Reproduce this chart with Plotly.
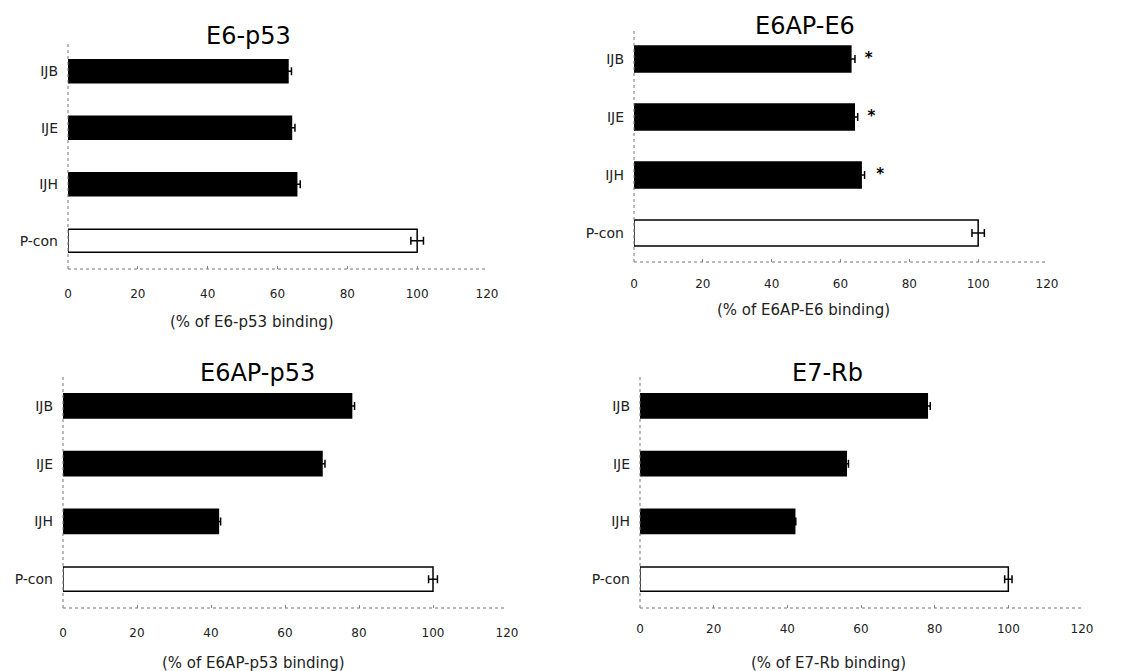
import plotly.graph_objects as go

categories = ["IJB", "IJE", "IJH", "P-con"]

titles = ["E6-p53", "E6AP-E6", "E6AP-p53", "E7-Rb"]
xtitles = ["(% of E6-p53 binding)", "(% of E6AP-E6 binding)",
           "(% of E6AP-p53 binding)", "(% of E7-Rb binding)"]

e6_p53 = [63, 64, 65.5, 100]
e6_p53_err = [1.0, 1.0, 1.0, 1.8]
e6ap_e6 = [63, 64, 66, 100]
e6ap_e6_err = [1.2, 1.0, 1.0, 1.8]
e6ap_p53 = [78, 70, 42, 100]
e6ap_p53_err = [0.8, 0.8, 0.6, 1.2]
e7_rb = [78, 56, 42, 100]
e7_rb_err = [0.8, 0.6, 0.3, 1.0]

star_flags = [[], ["IJB", "IJE", "IJH"], [], []]

xticks = [0, 20, 40, 60, 80, 100, 120]

values = [e6_p53, e6ap_e6, e6ap_p53, e7_rb]
errors = [e6_p53_err, e6ap_e6_err, e6ap_p53_err, e7_rb_err]

W, H = 1142, 671
# panel boxes in pixels: (left, right, top, bottom)
boxes = [(68, 487, 43, 269), (634, 1047, 30, 262), (63, 507, 377, 608), (640, 1082, 377, 608)]
bar_widths = [0.41, 0.45, 0.42, 0.42]
title_pos = [(248, 36), (805, 26), (257, 373), (827, 373)]
xtitle_pos = [(252, 322), (803, 310), (253, 663), (828, 663)]
tick_standoff = [16, 13, 16, 12]

FONT = "DejaVu Sans"

fig = go.Figure()
annotations = []
shapes = []
for i in range(4):
    xa = "x" if i == 0 else f"x{i+1}"
    ya = "y" if i == 0 else f"y{i+1}"
    colors = ["black" if c != "P-con" else "white" for c in categories]
    fig.add_trace(go.Bar(
        x=values[i], y=categories, orientation="h",
        marker=dict(color=colors, line=dict(color="black", width=1.5)),
        width=bar_widths[i],
        error_x=dict(type="data", array=errors[i], color="black", thickness=1.5, width=4),
        xaxis=xa, yaxis=ya, showlegend=False, hoverinfo="skip",
    ))
    if star_flags[i]:
        sx = [values[i][categories.index(c)] + errors[i][categories.index(c)] + (4 if c != "IJH" else 4.5)
              for c in star_flags[i]]
        fig.add_trace(go.Scatter(
            x=sx, y=star_flags[i], mode="text", text=["<b>*</b>"] * len(sx),
            textfont=dict(family=FONT, size=15, color="black"),
            textposition="middle center",
            xaxis=xa, yaxis=ya, showlegend=False, hoverinfo="skip",
        ))
    l, r, t, b = boxes[i]
    sfx = "" if i == 0 else str(i + 1)
    fig.layout["xaxis" + sfx] = dict(
        domain=[l / W, r / W], range=[0, 120], tickvals=xticks,
        ticks="inside", ticklen=3, tickcolor="#888", showgrid=False, zeroline=False,
        showline=False, anchor=ya, ticklabelstandoff=tick_standoff[i], automargin=False,
        tickfont=dict(family=FONT, size=12, color="#222"), fixedrange=True,
    )
    fig.layout["yaxis" + sfx] = dict(
        domain=[1 - b / H, 1 - t / H], range=[3.5, -0.5], type="category",
        categoryorder="array", categoryarray=categories, automargin=False,
        showgrid=False, zeroline=False, showline=False, ticks="", anchor=xa,
        ticklabelstandoff=9,
        tickfont=dict(family=FONT, size=14, color="#222"), fixedrange=True,
    )
    # dotted axis lines
    shapes.append(dict(type="line", xref=f"{xa} domain", yref=f"{ya} domain",
                       x0=0, x1=1, y0=0, y1=0, line=dict(color="#777", width=1, dash="dot")))
    shapes.append(dict(type="line", xref=f"{xa} domain", yref=f"{ya} domain",
                       x0=0, x1=0, y0=0, y1=1, line=dict(color="#777", width=1, dash="dot")))
    tx, ty = title_pos[i]
    annotations.append(dict(text=titles[i], x=tx / W, y=1 - ty / H, xref="paper", yref="paper",
                            showarrow=False, xanchor="center", yanchor="middle",
                            font=dict(family=FONT, size=24, color="black")))
    ax, ay = xtitle_pos[i]
    annotations.append(dict(text=xtitles[i], x=ax / W, y=1 - ay / H, xref="paper", yref="paper",
                            showarrow=False, xanchor="center", yanchor="middle",
                            font=dict(family=FONT, size=15, color="#222")))

fig.update_layout(
    template="none",
    width=W, height=H, margin=dict(l=0, r=0, t=0, b=0, pad=0, autoexpand=False),
    paper_bgcolor="white", plot_bgcolor="white",
    annotations=annotations, shapes=shapes, bargap=0.5,
)

fig.write_html("out.html", config={"displayModeBar": False},
               post_script="document.body.style.margin='0';document.body.style.overflow='hidden';")
